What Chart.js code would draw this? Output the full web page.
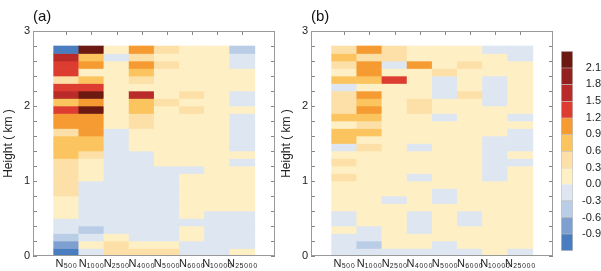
<!DOCTYPE html>
<html><head><meta charset="utf-8">
<script src="https://cdn.jsdelivr.net/npm/chart.js@4.4.1/dist/chart.umd.min.js"></script>
<style>
html,body{margin:0;padding:0;background:#fff;width:601px;height:271px;overflow:hidden}
canvas{position:absolute;top:0}
#A{left:0}
#B{left:278px}
#C{left:545px}
</style></head><body>
<canvas id="A" width="290" height="271"></canvas>
<canvas id="B" width="290" height="271"></canvas>
<canvas id="C" width="56" height="271"></canvas>
<script>
// ---- data (rows listed from bottom, 0.0 km, to top, 2.7 km) ----
const columns = ['500','1000','2500','4000','5000','6000','10000','25000'];
const levelBottoms = [0.0,0.1,0.2,0.3,0.4,0.5,0.6,0.7,0.8,0.9,1.0,1.1,1.2,1.3,1.4,1.5,1.6,1.7,1.8,1.9,2.0,2.1,2.2,2.3,2.4,2.5,2.6,2.7];
const layerDepth = 0.1;

const aN500   = [-1.05,-0.75,-0.45,-0.15,-0.15,0.15,0.15,0.15,0.45,0.45,0.45,0.45,0.45,0.75,0.75,0.75,0.45,1.05,1.05,1.35,0.75,1.65,1.35,0.45,1.35,1.35,1.65,-1.05];
const aN1000  = [-0.15,0.15,-0.15,-0.45,-0.15,-0.15,-0.15,-0.15,-0.15,-0.15,0.15,0.15,0.15,0.45,0.75,0.75,1.05,1.05,1.05,2.25,1.05,2.25,1.35,0.75,0.15,1.05,0.75,2.25];
const aN2500  = [0.45,0.45,0.15,-0.15,-0.15,-0.15,-0.15,-0.15,-0.15,-0.15,-0.15,-0.15,-0.15,-0.15,-0.15,-0.15,-0.15,0.15,0.15,0.15,0.15,0.15,0.15,0.15,0.15,0.15,-0.15,0.15];
const aN4000  = [0.45,0.15,-0.15,-0.15,-0.15,-0.15,-0.15,-0.15,-0.15,-0.15,-0.15,-0.15,-0.15,-0.15,0.15,0.15,0.15,0.45,0.45,0.75,0.75,1.65,0.15,0.45,0.75,1.05,0.45,1.05];
const aN5000  = [0.45,0.15,-0.15,-0.15,-0.15,-0.15,-0.15,-0.15,-0.15,-0.15,-0.15,-0.15,0.15,0.15,0.15,0.15,0.15,0.15,0.15,0.15,0.45,0.15,0.15,0.15,0.15,0.45,0.15,0.45];
const aN6000  = [-0.15,-0.15,0.15,0.15,-0.15,0.15,0.15,0.15,0.15,0.15,0.15,-0.15,0.15,0.15,0.15,0.15,0.15,0.15,0.15,0.45,0.15,0.45,0.15,0.15,0.15,0.15,0.15,0.15];
const aN10000 = [-0.15,-0.15,-0.15,-0.15,-0.15,-0.15,0.15,0.15,0.15,0.15,0.15,0.15,0.15,0.15,0.15,0.15,0.15,0.15,0.15,0.15,0.15,0.15,0.15,0.15,0.15,0.15,0.15,0.15];
const aN25000 = [0.15,-0.15,-0.15,-0.15,-0.15,-0.15,0.15,0.15,0.15,0.15,0.15,0.15,-0.15,0.15,-0.15,-0.15,-0.15,-0.15,-0.15,0.15,-0.15,-0.15,0.15,0.15,0.15,-0.15,-0.15,-0.45];

const bN500   = [-0.15,-0.15,-0.15,0.15,-0.15,-0.15,0.15,0.15,0.15,0.15,0.45,0.15,0.45,0.15,-0.15,0.75,0.75,0.15,0.75,0.45,0.45,0.45,-0.15,0.75,0.15,0.45,0.75,0.45];
const bN1000  = [-0.15,-0.45,-0.15,-0.15,0.15,0.15,0.15,0.15,0.15,0.15,0.15,0.15,0.15,0.15,0.45,0.15,0.75,0.45,0.75,1.05,0.75,1.05,0.15,0.75,1.05,1.05,0.45,1.05];
const bN2500  = [-0.15,0.15,0.15,0.15,0.15,0.15,0.15,-0.15,0.15,0.15,0.15,0.15,0.15,0.15,0.15,0.15,0.15,0.15,0.15,0.15,0.15,0.15,0.15,1.35,0.15,-0.15,0.45,0.45];
const bN4000  = [-0.15,0.15,0.15,-0.15,-0.15,-0.15,0.15,0.15,0.15,0.15,-0.15,0.15,0.15,0.15,-0.15,0.15,0.15,0.15,0.15,0.45,0.45,0.15,0.15,0.15,0.15,1.05,0.15,0.15];
const bN5000  = [-0.15,-0.15,0.15,0.15,0.15,0.15,0.15,-0.15,-0.15,0.15,0.15,0.15,0.15,0.15,0.15,0.15,0.15,0.15,-0.15,0.15,0.15,-0.15,-0.15,-0.15,0.45,0.15,0.15,0.15];
const bN6000  = [-0.15,0.15,0.15,0.15,-0.15,-0.15,0.15,0.15,0.15,0.15,0.15,0.15,0.15,0.15,0.15,0.15,0.15,0.15,0.15,0.15,0.15,0.45,0.15,0.15,0.15,0.45,0.15,0.15];
const bN10000 = [0.15,0.15,0.15,0.15,0.15,0.15,0.15,0.15,0.15,0.15,-0.15,-0.15,-0.15,-0.15,-0.15,-0.15,0.15,0.15,0.15,0.15,-0.15,-0.15,-0.15,-0.15,0.15,0.15,0.15,-0.15];
const bN25000 = [-0.15,0.15,0.15,0.15,0.15,0.15,0.15,0.15,0.15,0.15,0.15,0.15,-0.15,0.15,-0.15,-0.15,-0.15,0.15,-0.15,0.15,0.15,0.15,0.15,0.15,0.15,0.15,-0.15,-0.15];

const heightTicks = [0, 1, 2, 3];
const colorBounds = [-1.2,-0.9,-0.6,-0.3,0.0,0.3,0.6,0.9,1.2,1.5,1.8,2.1,2.4];
const colorbarTicks = [-0.9,-0.6,-0.3,0.0,0.3,0.6,0.9,1.2,1.5,1.8,2.1];
const palette = ['#4a7dbf','#7ea0d0','#bacde6','#dde6f1','#fef0c4','#fde0a8','#fcc45f','#f59b32','#dd3d30','#b92b28','#922120','#6c1912'];

// ---- helpers ----
const FONT = "'Liberation Sans', Arial, Helvetica, sans-serif";
const TXT = '#222';
const SUB = {'0':'\u2080','1':'\u2081','2':'\u2082','3':'\u2083','4':'\u2084','5':'\u2085','6':'\u2086','7':'\u2087','8':'\u2088','9':'\u2089'};
const sub = s => s.split('').map(c => SUB[c]).join('');
function colorFor(v) {
  for (let i = 0; i < palette.length; i++) if (v < colorBounds[i + 1]) return palette[i];
  return palette[palette.length - 1];
}

const framePlugin = {
  id: 'frame',
  beforeDatasetsDraw(chart) {
    const {ctx, chartArea: a, scales: {x, y}} = chart;
    ctx.save();
    ctx.strokeStyle = '#888'; ctx.lineWidth = 1;
    ctx.beginPath();
    for (let v = 0; v <= 3.0001; v += 0.2) {
      const py = Math.round(y.getPixelForValue(v)) + 0.5;
      ctx.moveTo(a.left, py); ctx.lineTo(a.left + 4, py);
      ctx.moveTo(a.right, py); ctx.lineTo(a.right - 4, py);
    }
    columns.forEach((c, i) => {
      const px = Math.round(x.getPixelForValue(i)) + 0.5;
      ctx.moveTo(px, a.top); ctx.lineTo(px, a.top + 4);
      ctx.moveTo(px, a.bottom); ctx.lineTo(px, a.bottom - 4);
    });
    ctx.stroke();
    ctx.restore();
  },
  afterDatasetsDraw(chart) {
    const {ctx, chartArea: a} = chart;
    ctx.save();
    ctx.strokeStyle = '#999'; ctx.lineWidth = 1;
    ctx.strokeRect(Math.round(a.left) + 0.5, Math.round(a.top) + 0.5, Math.round(a.right - a.left) - 1, Math.round(a.bottom - a.top) - 1);
    ctx.restore();
  }
};

function panel(id, label, cols) {
  const cells = [], colors = [];
  cols.forEach((vals, i) => {
    vals.forEach((v, k) => {
      cells.push({x: i, y: [levelBottoms[k], levelBottoms[k] + layerDepth]});
      colors.push(colorFor(v));
    });
  });
  return new Chart(document.getElementById(id), {
    type: 'bar',
    data: {datasets: [{data: cells, backgroundColor: colors, borderWidth: 0, barPercentage: 1, categoryPercentage: 1, grouped: false}]},
    options: {
      responsive: false, animation: false, devicePixelRatio: 1,
      layout: {padding: {left: 0, right: 15, top: 0, bottom: 0}},
      plugins: {
        legend: {display: false}, tooltip: {enabled: false},
        title: {display: true, text: label, align: 'start', fullSize: false, color: '#111',
                font: {family: FONT, size: 15, weight: 'normal'}, padding: {top: 8, bottom: 5}}
      },
      scales: {
        x: {type: 'linear', min: -0.72, max: 7.7,
            afterBuildTicks: s => { s.ticks = columns.map((c, i) => ({value: i})); },
            afterFit: s => { s.height = 15; },
            grid: {display: false, drawTicks: false}, border: {display: false},
            ticks: {autoSkip: false, maxRotation: 0, minRotation: 0, padding: 1, color: TXT,
                    font: {family: FONT, size: 11},
                    callback: (v, i) => 'N' + sub(columns[i])}},
        y: {type: 'linear', min: 0, max: 3,
            afterBuildTicks: s => { s.ticks = heightTicks.map(v => ({value: v})); },
            afterFit: s => { s.width = 33; },
            grid: {display: false, drawTicks: false}, border: {display: false},
            ticks: {padding: 3, color: TXT, font: {family: FONT, size: 11}, callback: v => String(v)},
            title: {display: true, text: 'Height ( km )', color: TXT, font: {family: FONT, size: 12}, padding: {top: 1, bottom: 0}}}
      }
    },
    plugins: [framePlugin]
  });
}

panel('A', '(a)', [aN500, aN1000, aN2500, aN4000, aN5000, aN6000, aN10000, aN25000]);
panel('B', '(b)', [bN500, bN1000, bN2500, bN4000, bN5000, bN6000, bN10000, bN25000]);

// ---- colour bar ----
new Chart(document.getElementById('C'), {
  type: 'bar',
  data: {datasets: [{
    data: palette.map((c, i) => ({x: 0, y: [colorBounds[i], colorBounds[i + 1]]})),
    backgroundColor: palette, borderColor: 'rgba(90,90,90,0.35)', borderWidth: 1,
    barPercentage: 1, categoryPercentage: 1
  }]},
  options: {
    responsive: false, animation: false, devicePixelRatio: 1,
    layout: {padding: {left: 16, right: 0, top: 51, bottom: 20}},
    plugins: {legend: {display: false}, tooltip: {enabled: false}},
    scales: {
      x: {type: 'linear', min: -0.5, max: 0.5, display: false},
      y: {type: 'linear', position: 'right', min: -1.2, max: 2.4,
          afterBuildTicks: s => { s.ticks = colorbarTicks.map(v => ({value: v})); },
          afterFit: s => { s.width = 28; },
          grid: {display: false, drawTicks: false}, border: {display: false},
          ticks: {padding: 3, crossAlign: 'far', color: TXT, font: {family: FONT, size: 11},
                  callback: v => v.toFixed(1)}}
    }
  }
});
</script>
</body></html>
